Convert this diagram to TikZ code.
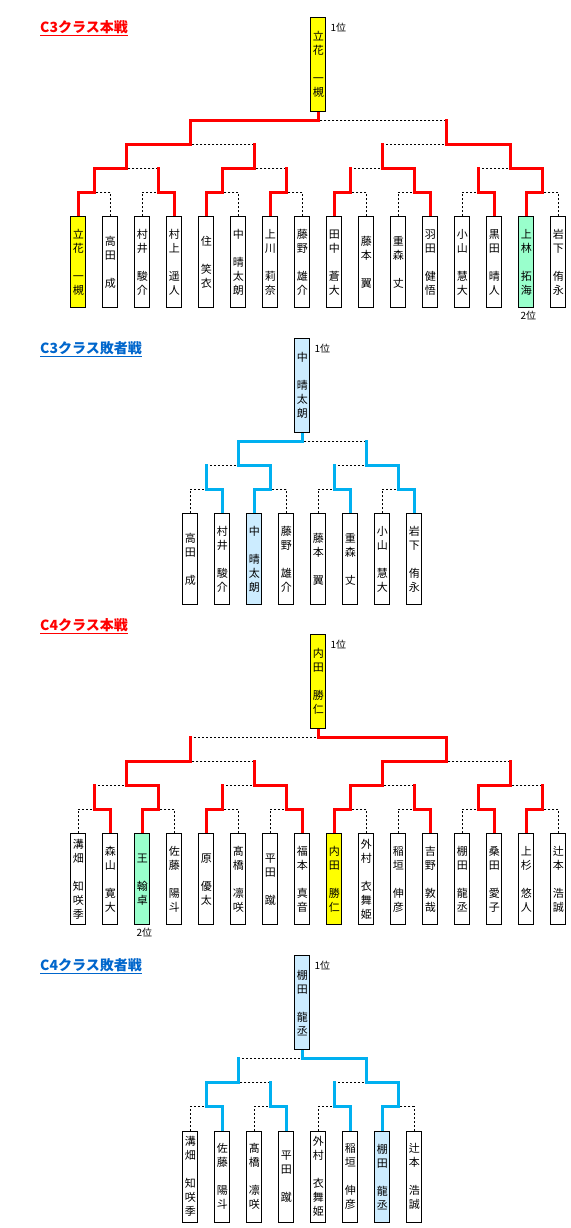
\documentclass[tikz,border=0pt]{standalone}
\usepackage{fontspec}
\setmainfont{Noto Sans CJK JP}
\usetikzlibrary{calc}
\pgfdeclarelayer{back}
\pgfdeclarelayer{bg}
\pgfsetlayers{back,bg,main}
\definecolor{cred}{RGB}{255,0,0}
\definecolor{cblue}{RGB}{0,176,240}
\definecolor{ttlblue}{RGB}{0,102,204}
\definecolor{fyellow}{RGB}{255,255,0}
\definecolor{fgreen}{RGB}{153,255,204}
\definecolor{fblue}{RGB}{204,236,255}
\makeatletter
\newcommand\vnch[1]{\hbox to 15pt{\hss#1\hss}}
\newcommand\vn[2]{\vbox{\baselineskip=14pt\lineskiplimit=-30pt\lineskip=0pt
  \@tfor\vn@c:=#1\do{\vnch{\vn@c}}\hbox to 15pt{}\@tfor\vn@c:=#2\do{\vnch{\vn@c}}}}
\makeatother
\tikzset{
 leaf/.style={draw=black, line width=1pt, fill=white, minimum width=15pt, minimum height=91pt, inner sep=0pt, font=\fontsize{11}{14}\selectfont},
 champ/.style={leaf, minimum height=94pt},
 wr/.style={draw=cred, line width=2.8pt, line cap=rect, line join=miter},
 wb/.style={draw=cblue, line width=2.8pt, line cap=rect, line join=miter},
 lose/.style={draw=black, line width=1pt, dash pattern=on 2pt off 2pt},
 ttl/.style={anchor=base west, font=\fontsize{14}{16}\selectfont\bfseries, inner sep=0pt},
 rank/.style={font=\fontsize{10}{12}\selectfont, inner sep=0pt},
}
% #1 winner style, #2 match point, #3 winner top, #4 loser top, #5 loser stem style
\newcommand\bout[5]{%
  \draw[lose] (#4 |- #2) -- (#2);
  \draw[#5] (#4) -- (#4 |- #2);
  \draw[#1] (#3) |- (#2);
}
\begin{document}
\begin{tikzpicture}[x=1pt,y=-1pt]
\begin{pgfonlayer}{back}
\path[fill=white,use as bounding box] (0,0) rectangle (570,1228);
\end{pgfonlayer}

% titles
\node[ttl,text=cred] (ta) at (40,32.3) {\underline{C3クラス本戦}};
\node[ttl,text=ttlblue] (tb) at (40,353.7) {\underline{C3クラス敗者戦}};
\node[ttl,text=cred] (tc) at (40,630.7) {\underline{C4クラス本戦}};
\node[ttl,text=ttlblue] (td) at (40,970.3) {\underline{C4クラス敗者戦}};

% ===== C3 main =====
\node[champ,fill=fyellow] (achamp) at (318.3,64.8) {\vn{立花}{一槻}};
\node[leaf,fill=fyellow] (a0) at (78.3,262.3) {\vn{立花}{一槻}};
\node[leaf] (a1) at (110.3,262.3) {\vn{高田}{成}};
\node[leaf] (a2) at (142.3,262.3) {\vn{村井}{駿介}};
\node[leaf] (a3) at (174.3,262.3) {\vn{村上}{遥人}};
\node[leaf] (a4) at (206.3,262.3) {\vn{住}{笑衣}};
\node[leaf] (a5) at (238.3,262.3) {\vn{中}{晴太朗}};
\node[leaf] (a6) at (270.3,262.3) {\vn{上川}{莉奈}};
\node[leaf] (a7) at (302.3,262.3) {\vn{藤野}{雄介}};
\node[leaf] (a8) at (334.3,262.3) {\vn{田中}{蒼大}};
\node[leaf] (a9) at (366.3,262.3) {\vn{藤本}{翼}};
\node[leaf] (a10) at (398.3,262.3) {\vn{重森}{丈}};
\node[leaf] (a11) at (430.3,262.3) {\vn{羽田}{健悟}};
\node[leaf] (a12) at (462.3,262.3) {\vn{小山}{慧大}};
\node[leaf] (a13) at (494.3,262.3) {\vn{黒田}{晴人}};
\node[leaf,fill=fgreen] (a14) at (526.3,262.3) {\vn{上林}{拓海}};
\node[leaf] (a15) at (558.3,262.3) {\vn{岩下}{侑永}};
\node[rank,anchor=west] (arank1) at ($(achamp.north east)+(4,10)$) {1位};
\node[rank,anchor=north] (arank2) at ($(a14.south)+(2,2.5)$) {2位};
\foreach \j in {0,...,7} \coordinate (aa\j) at (94.3+64*\j,192.5);
\foreach \j in {0,...,3} \coordinate (ab\j) at (126.3+128*\j,168.5);
\foreach \j in {0,1} \coordinate (ac\j) at (190.3+256*\j,144.5);
\coordinate (ad) at (318.3,120.5);

% ===== C3 losers =====
\node[champ,fill=fblue] (bchamp) at (302.3,385.8) {\vn{中}{晴太朗}};
\node[leaf] (b0) at (190.3,559.3) {\vn{高田}{成}};
\node[leaf] (b1) at (222.3,559.3) {\vn{村井}{駿介}};
\node[leaf,fill=fblue] (b2) at (254.3,559.3) {\vn{中}{晴太朗}};
\node[leaf] (b3) at (286.3,559.3) {\vn{藤野}{雄介}};
\node[leaf] (b4) at (318.3,559.3) {\vn{藤本}{翼}};
\node[leaf] (b5) at (350.3,559.3) {\vn{重森}{丈}};
\node[leaf] (b6) at (382.3,559.3) {\vn{小山}{慧大}};
\node[leaf] (b7) at (414.3,559.3) {\vn{岩下}{侑永}};
\node[rank,anchor=west] (brank1) at ($(bchamp.north east)+(4,10)$) {1位};
\foreach \j in {0,...,3} \coordinate (ba\j) at (206.3+64*\j,489.3);
\foreach \j in {0,1} \coordinate (bb\j) at (238.3+128*\j,465.3);
\coordinate (bc) at (302.3,441.3);

% ===== C4 main =====
\node[champ,fill=fyellow] (cchamp) at (318.3,681.8) {\vn{内田}{勝仁}};
\node[leaf] (c0) at (78.3,879.3) {\vn{溝畑}{知咲季}};
\node[leaf] (c1) at (110.3,879.3) {\vn{森山}{寛大}};
\node[leaf,fill=fgreen] (c2) at (142.3,879.3) {\vn{王}{翰卓}};
\node[leaf] (c3) at (174.3,879.3) {\vn{佐藤}{陽斗}};
\node[leaf] (c4) at (206.3,879.3) {\vn{原}{優太}};
\node[leaf] (c5) at (238.3,879.3) {\vn{髙橋}{凛咲}};
\node[leaf] (c6) at (270.3,879.3) {\vn{平田}{蹴}};
\node[leaf] (c7) at (302.3,879.3) {\vn{福本}{真音}};
\node[leaf,fill=fyellow] (c8) at (334.3,879.3) {\vn{内田}{勝仁}};
\node[leaf] (c9) at (366.3,879.3) {\vn{外村}{衣舞姫}};
\node[leaf] (c10) at (398.3,879.3) {\vn{稲垣}{伸彦}};
\node[leaf] (c11) at (430.3,879.3) {\vn{吉野}{敦哉}};
\node[leaf] (c12) at (462.3,879.3) {\vn{棚田}{龍丞}};
\node[leaf] (c13) at (494.3,879.3) {\vn{桑田}{愛子}};
\node[leaf] (c14) at (526.3,879.3) {\vn{上杉}{悠人}};
\node[leaf] (c15) at (558.3,879.3) {\vn{辻本}{浩誠}};
\node[rank,anchor=west] (crank1) at ($(cchamp.north east)+(4,10)$) {1位};
\node[rank,anchor=north] (crank2) at ($(c2.south)+(2,2.5)$) {2位};
\foreach \j in {0,...,7} \coordinate (ca\j) at (94.3+64*\j,809.5);
\foreach \j in {0,...,3} \coordinate (cb\j) at (126.3+128*\j,785.5);
\foreach \j in {0,1} \coordinate (cc\j) at (190.3+256*\j,761.5);
\coordinate (cd) at (318.3,737.5);

% ===== C4 losers =====
\node[champ,fill=fblue] (dchamp) at (302.3,1002.8) {\vn{棚田}{龍丞}};
\node[leaf] (d0) at (190.3,1176.7) {\vn{溝畑}{知咲季}};
\node[leaf] (d1) at (222.3,1176.7) {\vn{佐藤}{陽斗}};
\node[leaf] (d2) at (254.3,1176.7) {\vn{髙橋}{凛咲}};
\node[leaf] (d3) at (286.3,1176.7) {\vn{平田}{蹴}};
\node[leaf] (d4) at (318.3,1176.7) {\vn{外村}{衣舞姫}};
\node[leaf] (d5) at (350.3,1176.7) {\vn{稲垣}{伸彦}};
\node[leaf,fill=fblue] (d6) at (382.3,1176.7) {\vn{棚田}{龍丞}};
\node[leaf] (d7) at (414.3,1176.7) {\vn{辻本}{浩誠}};
\node[rank,anchor=west] (drank1) at ($(dchamp.north east)+(4,10)$) {1位};
\foreach \j in {0,...,3} \coordinate (da\j) at (206.3+64*\j,1106.3);
\foreach \j in {0,1} \coordinate (db\j) at (238.3+128*\j,1082.3);
\coordinate (dc) at (302.3,1058.3);

\begin{pgfonlayer}{bg}
% C3 main
\bout{wr}{aa0}{a0.north}{a1.north}{lose}
\bout{wr}{aa1}{a3.north}{a2.north}{lose}
\bout{wr}{aa2}{a4.north}{a5.north}{lose}
\bout{wr}{aa3}{a6.north}{a7.north}{lose}
\bout{wr}{aa4}{a8.north}{a9.north}{lose}
\bout{wr}{aa5}{a11.north}{a10.north}{lose}
\bout{wr}{aa6}{a13.north}{a12.north}{lose}
\bout{wr}{aa7}{a14.north}{a15.north}{lose}
\bout{wr}{ab0}{aa0}{aa1}{wr}
\bout{wr}{ab1}{aa2}{aa3}{wr}
\bout{wr}{ab2}{aa5}{aa4}{wr}
\bout{wr}{ab3}{aa7}{aa6}{wr}
\bout{wr}{ac0}{ab0}{ab1}{wr}
\bout{wr}{ac1}{ab3}{ab2}{wr}
\bout{wr}{ad}{ac0}{ac1}{wr}
\draw[wr] (ad) -- (achamp.south);
% C3 losers
\bout{wb}{ba0}{b1.north}{b0.north}{lose}
\bout{wb}{ba1}{b2.north}{b3.north}{lose}
\bout{wb}{ba2}{b5.north}{b4.north}{lose}
\bout{wb}{ba3}{b7.north}{b6.north}{lose}
\bout{wb}{bb0}{ba1}{ba0}{wb}
\bout{wb}{bb1}{ba3}{ba2}{wb}
\bout{wb}{bc}{bb0}{bb1}{wb}
\draw[wb] (bc) -- (bchamp.south);
% C4 main
\bout{wr}{ca0}{c1.north}{c0.north}{lose}
\bout{wr}{ca1}{c2.north}{c3.north}{lose}
\bout{wr}{ca2}{c4.north}{c5.north}{lose}
\bout{wr}{ca3}{c7.north}{c6.north}{lose}
\bout{wr}{ca4}{c8.north}{c9.north}{lose}
\bout{wr}{ca5}{c11.north}{c10.north}{lose}
\bout{wr}{ca6}{c13.north}{c12.north}{lose}
\bout{wr}{ca7}{c14.north}{c15.north}{lose}
\bout{wr}{cb0}{ca1}{ca0}{wr}
\bout{wr}{cb1}{ca3}{ca2}{wr}
\bout{wr}{cb2}{ca4}{ca5}{wr}
\bout{wr}{cb3}{ca6}{ca7}{wr}
\bout{wr}{cc0}{cb0}{cb1}{wr}
\bout{wr}{cc1}{cb2}{cb3}{wr}
\bout{wr}{cd}{cc1}{cc0}{wr}
\draw[wr] (cd) -- (cchamp.south);
% C4 losers
\bout{wb}{da0}{d1.north}{d0.north}{lose}
\bout{wb}{da1}{d3.north}{d2.north}{lose}
\bout{wb}{da2}{d5.north}{d4.north}{lose}
\bout{wb}{da3}{d6.north}{d7.north}{lose}
\bout{wb}{db0}{da0}{da1}{wb}
\bout{wb}{db1}{da3}{da2}{wb}
\bout{wb}{dc}{db1}{db0}{wb}
\draw[wb] (dc) -- (dchamp.south);
\end{pgfonlayer}
\end{tikzpicture}
\end{document}
